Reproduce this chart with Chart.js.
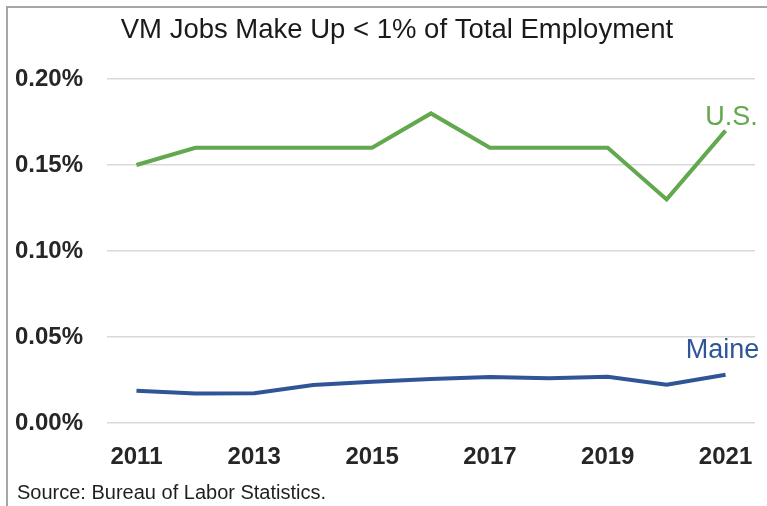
<!DOCTYPE html>
<html>
<head>
<meta charset="utf-8">
<script src="https://cdn.jsdelivr.net/npm/chart.js@4"></script>
<style>
  html, body { margin: 0; padding: 0; background: #fff; }
  #wrap { position: absolute; left: 0; top: 0; width: 767px; height: 506px; }
  #frame { position: absolute; left: 6px; top: 6px; width: 761px; height: 500px;
           border-left: 2px solid #a6a6a6; border-top: 2px solid #a6a6a6; box-sizing: border-box; }
  #src { position: absolute; left: 17px; top: 481px; font: 20px "Liberation Sans", Arial, sans-serif; color: #1f1f1f; }
  canvas { position: absolute; left: 0; top: 0; }
</style>
</head>
<body>
<div id="wrap">
  <div id="frame"></div>
  <canvas id="c" width="767" height="506"></canvas>
  <div id="src">Source: Bureau of Labor Statistics.</div>
</div>
<script>
const years = ["2011","2012","2013","2014","2015","2016","2017","2018","2019","2020","2021"];
const usValues = [0.150, 0.160, 0.160, 0.160, 0.160, 0.180, 0.160, 0.160, 0.160, 0.130, 0.170];
const maineValues = [0.0188, 0.0171, 0.0173, 0.0221, 0.0240, 0.0256, 0.0268, 0.0260, 0.0269, 0.0222, 0.0280];
const yTicks = [0, 0.05, 0.10, 0.15, 0.20];
const titleText = "VM Jobs Make Up < 1% of Total Employment";
const seriesLabels = ["U.S.", "Maine"];
const usColor = "#62a84f";
const maineColor = "#2f5597";
const sans = '"Liberation Sans", Arial, sans-serif';

const shiftTitle = {
  id: 'shiftTitle',
  afterLayout(chart) {
    if (chart.titleBlock) { chart.titleBlock.left = 34; chart.titleBlock.right = 760; }
  }
};

const endLabels = {
  id: 'endLabels',
  afterDatasetsDraw(chart) {
    const ctx = chart.ctx;
    const offsets = [[6, -13], [-3, -24]];
    chart.data.datasets.forEach((ds, i) => {
      const meta = chart.getDatasetMeta(i);
      const pt = meta.data[meta.data.length - 1];
      ctx.save();
      ctx.font = '27px ' + sans;
      ctx.fillStyle = ds.borderColor;
      ctx.textAlign = 'center';
      ctx.textBaseline = 'middle';
      ctx.fillText(ds.label, pt.x + offsets[i][0], pt.y + offsets[i][1]);
      ctx.restore();
    });
  }
};

new Chart(document.getElementById('c'), {
  type: 'line',
  data: {
    labels: years,
    datasets: [
      { label: seriesLabels[0], data: usValues, borderColor: usColor, backgroundColor: usColor, borderWidth: 4, pointRadius: 0, tension: 0 },
      { label: seriesLabels[1], data: maineValues, borderColor: maineColor, backgroundColor: maineColor, borderWidth: 4, pointRadius: 0, tension: 0 }
    ]
  },
  options: {
    responsive: false,
    animation: false,
    layout: { padding: { left: 0, right: 12, top: 0, bottom: 40 } },
    plugins: {
      legend: { display: false },
      tooltip: { enabled: false },
      title: {
        display: true,
        text: titleText,
        color: '#1a1a1a',
        font: { family: sans, size: 27.5, weight: 'normal', lineHeight: 1.2 },
        padding: { top: 14, bottom: 32 }
      }
    },
    scales: {
      x: {
        type: 'category',
        offset: true,
        grid: { display: false, drawTicks: false },
        border: { display: false },
        ticks: {
          color: '#262626',
          font: { family: sans, size: 24, weight: 'bold' },
          padding: 20,
          maxRotation: 0,
          autoSkip: false,
          callback: function(v, i) { return i % 2 === 0 ? this.getLabelForValue(v) : ''; }
        },
        afterFit: s => { s.height = 43; s.paddingLeft = 0; s.paddingRight = 0; }
      },
      y: {
        min: 0, max: 0.2,
        afterBuildTicks: s => { s.ticks = yTicks.map(v => ({ value: v })); },
        grid: { color: '#d9d9d9', lineWidth: 1.5, drawTicks: false },
        border: { display: false },
        ticks: {
          color: '#262626',
          font: { family: sans, size: 24, weight: 'bold' },
          padding: 24,
          callback: v => v.toFixed(2) + '%'
        },
        afterFit: s => { s.width = 107; s.paddingTop = 0; s.paddingBottom = 0; }
      }
    }
  },
  plugins: [shiftTitle, endLabels]
});
</script>
</body>
</html>
